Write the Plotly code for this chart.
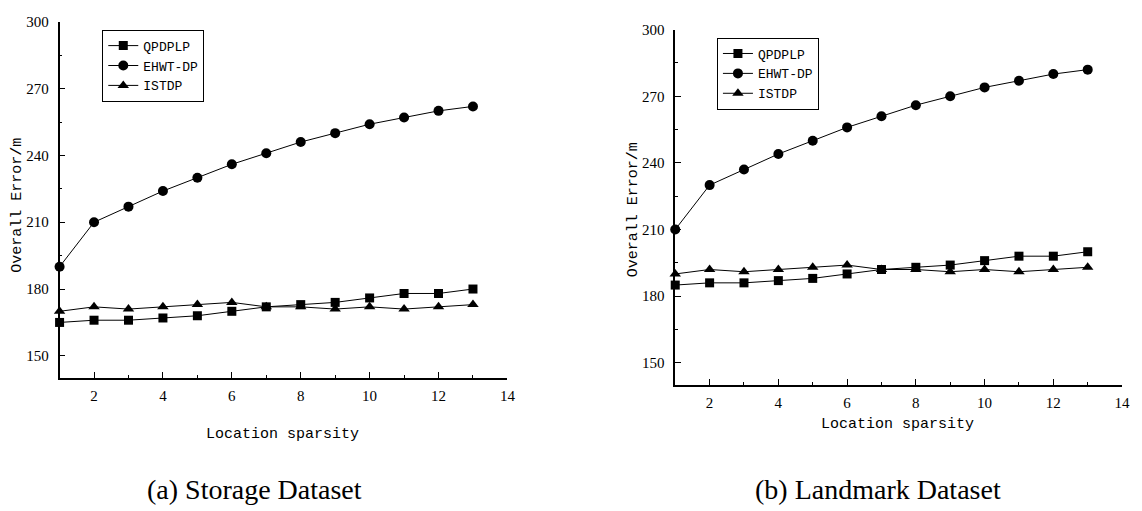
import plotly.graph_objects as go

sparsity = [1, 2, 3, 4, 5, 6, 7, 8, 9, 10, 11, 12, 13]

storage_qpdplp = [165, 166, 166, 167, 168, 170, 172, 173, 174, 176, 178, 178, 180]
storage_ehwt = [190, 210, 217, 224, 230, 236, 241, 246, 250, 254, 257, 260, 262]
storage_istdp = [170, 172, 171, 172, 173, 174, 172, 172, 171, 172, 171, 172, 173]

landmark_qpdplp = [185, 186, 186, 187, 188, 190, 192, 193, 194, 196, 198, 198, 200]
landmark_ehwt = [210, 230, 237, 244, 250, 256, 261, 266, 270, 274, 277, 280, 282]
landmark_istdp = [190, 192, 191, 192, 193, 194, 192, 192, 191, 192, 191, 192, 193]

series_names = ["QPDPLP", "EHWT-DP", "ISTDP"]
symbols = ["square", "circle", "triangle-up"]
sizes = [9, 10, 10]

W, H = 1142, 511
MONO = "Liberation Mono"
SERIF = "Liberation Serif"

fig = go.Figure()

panels = [
    ([storage_qpdplp, storage_ehwt, storage_istdp], "x", "y", "legend"),
    ([landmark_qpdplp, landmark_ehwt, landmark_istdp], "x2", "y2", "legend2"),
]
for data, xa, ya, lg in panels:
    for name, vals, sym, sz in zip(series_names, data, symbols, sizes):
        fig.add_trace(go.Scatter(
            x=sparsity, y=vals, name=name, mode="lines+markers",
            line=dict(color="black", width=1),
            marker=dict(symbol=sym, size=sz, color="black"),
            xaxis=xa, yaxis=ya, legend=lg, cliponaxis=False,
        ))

def xax(domain, anchor):
    return dict(
        domain=domain, anchor=anchor, range=[1, 14],
        showline=True, linecolor="black", linewidth=1.5,
        ticks="inside", ticklen=6, tickwidth=1.2, tickcolor="black",
        tick0=0, dtick=2, showgrid=False, zeroline=False,
        ticklabelstandoff=3,
        tickfont=dict(family=SERIF, size=15, color="black"),
        minor=dict(ticks="inside", ticklen=3, tickwidth=1, tickcolor="black",
                   tick0=1, dtick=1, showgrid=False),
    )

def yax(domain, anchor):
    return dict(
        domain=domain, anchor=anchor, range=[140, 300],
        showline=True, linecolor="black", linewidth=1.5,
        ticks="inside", ticklen=6, tickwidth=1.2, tickcolor="black",
        tick0=150, dtick=30, showgrid=False, zeroline=False,
        ticklabelstandoff=6,
        tickfont=dict(family=SERIF, size=15, color="black"),
        minor=dict(ticks="inside", ticklen=3, tickwidth=1, tickcolor="black",
                   tick0=150, dtick=15, showgrid=False),
    )

legend_style = dict(
    bordercolor="black", borderwidth=1, bgcolor="white",
    font=dict(family=MONO, size=13, color="black"),
    xanchor="left", yanchor="top", itemwidth=30, tracegroupgap=0,
)

fig.update_layout(
    width=W, height=H,
    margin=dict(l=0, r=0, t=0, b=0),
    paper_bgcolor="white", plot_bgcolor="white",
    showlegend=True,
    xaxis=xax([60 / W, 511 / W], "y"),
    yaxis=yax([1 - 376 / H, 1 - 14 / H], "x"),
    xaxis2=xax([680 / W, 1130 / W], "y2"),
    yaxis2=yax([1 - 383 / H, 1 - 22 / H], "x2"),
    legend=dict(x=103 / W, y=1 - 22 / H, **legend_style),
    legend2=dict(x=722 / W, y=1 - 30 / H, **legend_style),
)

annots = [
    dict(text="Overall Error/m", x=18 / W, y=1 - 200 / H, textangle=-90,
         font=dict(family=MONO, size=15, color="black")),
    dict(text="Overall Error/m", x=638 / W, y=1 - 205 / H, textangle=-90,
         font=dict(family=MONO, size=15, color="black")),
    dict(text="Location sparsity", x=284 / W, y=1 - 433 / H,
         font=dict(family=MONO, size=15, color="black")),
    dict(text="Location sparsity", x=904 / W, y=1 - 423 / H,
         font=dict(family=MONO, size=15, color="black")),
    dict(text="(a) Storage Dataset", x=256 / W, y=1 - 489 / H,
         font=dict(family=SERIF, size=28, color="black")),
    dict(text="(b) Landmark Dataset", x=884 / W, y=1 - 489 / H,
         font=dict(family=SERIF, size=28, color="black")),
]
for a in annots:
    fig.add_annotation(xref="paper", yref="paper", showarrow=False,
                       xanchor="center", yanchor="middle", **a)

fig.write_html("out.html", config={"displayModeBar": False},
               post_script="document.body.style.margin='0';")
